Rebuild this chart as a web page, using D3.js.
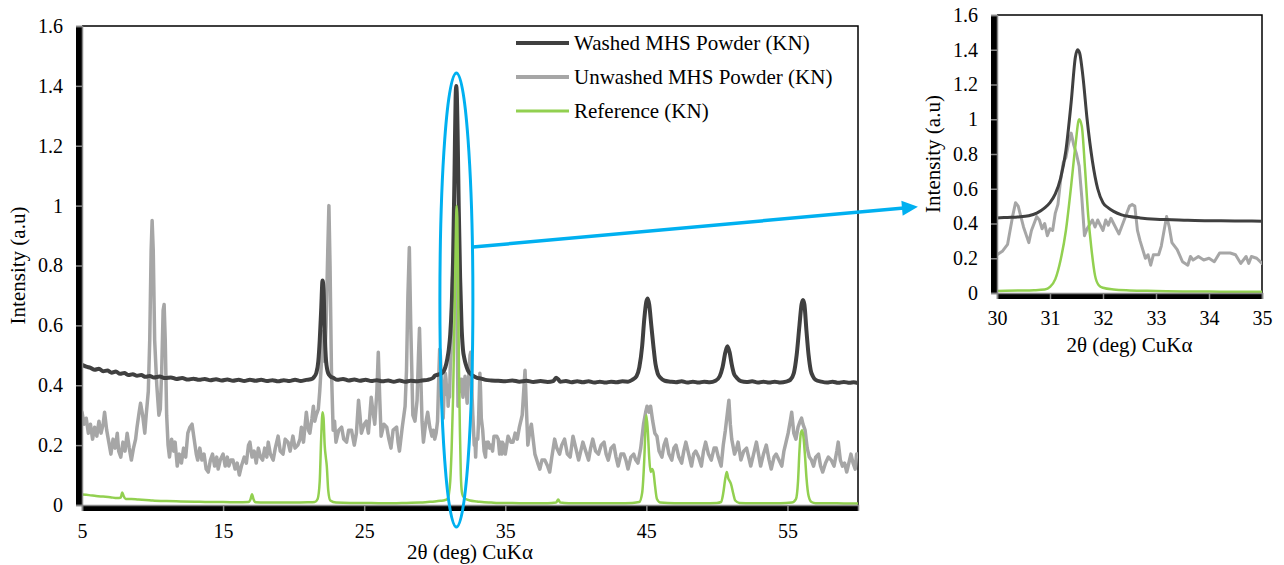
<!DOCTYPE html>
<html>
<head>
<meta charset="utf-8">
<script src="https://cdn.jsdelivr.net/npm/d3@7"></script>
<style>
  body { margin: 0; background: #fff; }
  svg text { fill: #000; }
</style>
</head>
<body>
<svg id="chart" width="1284" height="565"></svg>
<script>
// ---- XRD patterns (2θ in degrees, normalised intensity) ----
const washedTheta = [5.0,5.3,5.6,5.9,6.2,6.5,6.8,7.1,7.4,7.7,8.0,8.3,8.6,8.9,9.2,9.5,9.8,10.1,10.5,10.9,11.3,11.7,12.1,12.5,12.9,13.3,13.7,14.1,14.5,14.9,15.3,15.7,16.1,16.5,16.9,17.3,17.7,18.1,18.5,18.9,19.3,19.7,20.1,20.5,20.9,21.2,21.4,21.6,21.75,21.85,21.95,22.05,22.12,22.2,22.3,22.45,22.6,22.8,23.1,23.5,23.9,24.3,24.7,25.1,25.5,25.9,26.3,26.7,27.1,27.5,27.9,28.3,28.7,29.1,29.5,29.9,30.0,30.2,30.4,30.6,30.75,30.9,31.0,31.1,31.2,31.3,31.4,31.48,31.52,31.56,31.62,31.7,31.8,31.9,32.0,32.1,32.2,32.35,32.5,32.7,33.0,33.3,33.6,34.0,34.5,35.0,35.5,36.0,36.5,37.0,37.5,38.0,38.4,38.6,38.75,38.9,39.3,39.7,40.1,40.5,40.9,41.3,41.7,42.1,42.5,42.9,43.3,43.7,44.0,44.3,44.5,44.7,44.85,45.0,45.1,45.2,45.35,45.5,45.65,45.8,46.0,46.3,46.7,47.1,47.5,47.9,48.3,48.7,49.1,49.5,49.9,50.2,50.4,50.6,50.75,50.9,51.05,51.2,51.4,51.7,52.1,52.5,52.9,53.3,53.7,54.1,54.5,54.9,55.2,55.45,55.65,55.85,56.0,56.1,56.2,56.35,56.5,56.65,56.8,57.0,57.4,57.8,58.2,58.6,59.0,59.4,59.7,60.0];
const washedIntensity = [0.468,0.462,0.458,0.452,0.455,0.447,0.449,0.442,0.446,0.438,0.441,0.434,0.437,0.432,0.434,0.428,0.431,0.426,0.429,0.424,0.426,0.421,0.424,0.419,0.422,0.418,0.421,0.417,0.420,0.416,0.419,0.415,0.418,0.414,0.418,0.415,0.418,0.414,0.417,0.413,0.417,0.414,0.418,0.414,0.418,0.420,0.425,0.44,0.48,0.55,0.65,0.75,0.72,0.58,0.48,0.44,0.43,0.425,0.418,0.421,0.416,0.419,0.415,0.418,0.414,0.417,0.413,0.416,0.412,0.416,0.412,0.415,0.413,0.416,0.418,0.425,0.432,0.435,0.438,0.445,0.46,0.49,0.52,0.57,0.66,0.82,1.10,1.36,1.40,1.38,1.25,1.00,0.76,0.60,0.52,0.49,0.47,0.45,0.44,0.432,0.425,0.422,0.418,0.416,0.415,0.413,0.416,0.412,0.415,0.411,0.414,0.411,0.414,0.425,0.42,0.412,0.414,0.410,0.413,0.410,0.413,0.409,0.412,0.409,0.412,0.410,0.413,0.412,0.418,0.43,0.46,0.53,0.62,0.68,0.69,0.67,0.60,0.53,0.47,0.44,0.425,0.415,0.412,0.410,0.413,0.409,0.412,0.409,0.412,0.410,0.415,0.43,0.46,0.51,0.53,0.51,0.47,0.44,0.425,0.414,0.411,0.413,0.409,0.412,0.409,0.412,0.409,0.412,0.418,0.44,0.50,0.60,0.67,0.685,0.67,0.58,0.50,0.45,0.43,0.418,0.412,0.409,0.412,0.408,0.411,0.408,0.410,0.407];

const unwashedTheta = [5.0,5.15,5.3,5.45,5.6,5.75,5.9,6.05,6.2,6.35,6.5,6.6,6.75,6.9,7.05,7.2,7.35,7.5,7.6,7.75,7.9,8.05,8.2,8.35,8.5,8.65,8.8,8.9,9.05,9.15,9.3,9.45,9.55,9.7,9.8,9.9,9.97,10.05,10.15,10.3,10.45,10.55,10.65,10.75,10.82,10.9,11.0,11.1,11.2,11.35,11.5,11.6,11.75,11.9,12.05,12.2,12.35,12.5,12.65,12.8,12.95,13.1,13.2,13.35,13.5,13.65,13.8,13.95,14.1,14.25,14.4,14.55,14.65,14.8,15.0,15.15,15.3,15.4,15.55,15.7,15.85,16.0,16.15,16.3,16.5,16.65,16.8,16.9,17.05,17.2,17.35,17.5,17.65,17.8,17.95,18.1,18.2,18.35,18.55,18.7,18.9,19.05,19.25,19.4,19.6,19.75,19.95,20.1,20.3,20.45,20.55,20.7,20.9,21.05,21.15,21.3,21.4,21.5,21.6,21.75,21.85,22.0,22.1,22.2,22.3,22.42,22.5,22.58,22.68,22.8,22.9,23.0,23.2,23.4,23.55,23.75,23.9,24.1,24.3,24.45,24.6,24.7,24.8,25.0,25.15,25.3,25.5,25.6,25.75,25.9,26.0,26.1,26.2,26.4,26.6,26.75,26.9,27.05,27.3,27.4,27.5,27.7,27.9,28.0,28.1,28.2,28.3,28.45,28.6,28.75,28.85,28.92,29.0,29.1,29.2,29.35,29.5,29.65,29.8,29.9,30.0,30.1,30.2,30.3,30.35,30.4,30.5,30.6,30.65,30.75,30.8,30.85,30.9,30.95,31.0,31.05,31.1,31.15,31.2,31.25,31.3,31.35,31.4,31.45,31.5,31.55,31.6,31.65,31.7,31.8,31.85,31.9,32.0,32.05,32.1,32.15,32.2,32.3,32.35,32.45,32.5,32.55,32.6,32.65,32.7,32.8,32.85,32.9,32.95,33.05,33.1,33.2,33.25,33.3,33.4,33.5,33.6,33.65,33.7,33.8,33.9,34.0,34.1,34.2,34.3,34.4,34.5,34.6,34.7,34.75,34.8,34.9,35.0,35.2,35.4,35.55,35.7,35.85,36.0,36.2,36.4,36.5,36.6,36.75,36.85,37.0,37.1,37.3,37.45,37.6,37.8,38.0,38.15,38.3,38.5,38.65,38.85,39.0,39.2,39.4,39.6,39.8,40.0,40.2,40.35,40.5,40.7,40.9,41.05,41.2,41.4,41.6,41.8,42.0,42.15,42.3,42.5,42.7,42.85,43.0,43.2,43.4,43.55,43.7,43.9,44.1,44.25,44.4,44.6,44.8,44.95,45.05,45.2,45.3,45.45,45.6,45.75,45.9,46.1,46.25,46.4,46.6,46.8,46.95,47.1,47.3,47.5,47.65,47.8,48.0,48.2,48.35,48.5,48.7,48.9,49.05,49.2,49.4,49.6,49.8,49.95,50.1,50.3,50.45,50.6,50.75,50.85,50.95,51.05,51.25,51.4,51.5,51.7,51.9,52.1,52.25,52.4,52.6,52.8,52.95,53.1,53.3,53.5,53.7,53.85,54.05,54.2,54.4,54.6,54.75,54.9,55.05,55.2,55.3,55.45,55.6,55.75,55.9,56.0,56.1,56.25,56.4,56.55,56.7,56.85,57.0,57.2,57.35,57.5,57.7,57.9,58.1,58.3,58.5,58.6,58.75,58.9,59.05,59.2,59.35,59.5,59.65,59.8,59.9,60.0];
const unwashedIntensity = [0.31,0.27,0.29,0.24,0.27,0.22,0.26,0.23,0.28,0.24,0.27,0.31,0.25,0.21,0.17,0.22,0.19,0.24,0.18,0.16,0.21,0.18,0.24,0.19,0.15,0.19,0.22,0.26,0.31,0.34,0.30,0.24,0.30,0.38,0.55,0.85,0.95,0.85,0.55,0.40,0.30,0.32,0.45,0.65,0.67,0.55,0.30,0.20,0.16,0.22,0.18,0.21,0.13,0.17,0.14,0.19,0.16,0.24,0.26,0.27,0.22,0.17,0.15,0.19,0.15,0.17,0.12,0.11,0.15,0.17,0.13,0.16,0.12,0.15,0.17,0.13,0.16,0.13,0.15,0.15,0.12,0.14,0.10,0.13,0.16,0.14,0.20,0.21,0.16,0.18,0.14,0.19,0.16,0.15,0.19,0.16,0.21,0.17,0.15,0.19,0.23,0.18,0.17,0.22,0.21,0.18,0.23,0.19,0.20,0.22,0.26,0.21,0.31,0.25,0.24,0.29,0.33,0.28,0.30,0.32,0.38,0.50,0.58,0.48,0.60,0.85,1.00,0.80,0.45,0.25,0.28,0.21,0.25,0.26,0.22,0.21,0.25,0.25,0.20,0.24,0.35,0.30,0.24,0.27,0.28,0.24,0.36,0.32,0.27,0.38,0.51,0.36,0.23,0.27,0.26,0.22,0.19,0.25,0.26,0.21,0.18,0.26,0.33,0.45,0.70,0.86,0.60,0.30,0.28,0.35,0.50,0.59,0.45,0.28,0.21,0.27,0.31,0.26,0.23,0.25,0.22,0.24,0.28,0.45,0.52,0.50,0.38,0.29,0.36,0.44,0.42,0.37,0.40,0.33,0.37,0.36,0.46,0.51,0.65,0.75,0.78,0.86,0.92,0.85,0.80,0.73,0.55,0.33,0.37,0.42,0.38,0.42,0.36,0.42,0.39,0.43,0.40,0.34,0.38,0.46,0.50,0.51,0.50,0.36,0.30,0.20,0.22,0.16,0.22,0.22,0.27,0.44,0.38,0.29,0.25,0.18,0.16,0.21,0.19,0.21,0.19,0.20,0.18,0.23,0.23,0.23,0.22,0.17,0.21,0.17,0.21,0.20,0.17,0.23,0.21,0.21,0.24,0.22,0.26,0.30,0.45,0.32,0.20,0.25,0.27,0.21,0.17,0.14,0.12,0.15,0.15,0.13,0.11,0.16,0.22,0.19,0.17,0.20,0.22,0.17,0.16,0.23,0.19,0.15,0.18,0.21,0.18,0.15,0.19,0.22,0.18,0.17,0.20,0.21,0.17,0.15,0.19,0.20,0.16,0.13,0.17,0.17,0.15,0.12,0.16,0.17,0.15,0.14,0.19,0.27,0.31,0.33,0.31,0.33,0.28,0.24,0.23,0.18,0.16,0.20,0.22,0.17,0.15,0.19,0.20,0.16,0.14,0.18,0.21,0.17,0.13,0.17,0.18,0.16,0.13,0.18,0.21,0.17,0.15,0.19,0.19,0.16,0.13,0.20,0.25,0.31,0.35,0.27,0.22,0.17,0.19,0.21,0.15,0.18,0.19,0.16,0.13,0.17,0.21,0.17,0.13,0.17,0.20,0.15,0.12,0.16,0.17,0.15,0.13,0.18,0.21,0.24,0.28,0.31,0.24,0.22,0.26,0.28,0.29,0.27,0.25,0.19,0.16,0.15,0.13,0.16,0.17,0.13,0.11,0.14,0.16,0.15,0.13,0.18,0.21,0.15,0.13,0.14,0.11,0.14,0.17,0.14,0.12,0.17,0.17];

const referenceTheta = [5.0,5.5,6.0,6.5,7.0,7.5,7.75,7.85,7.95,8.1,8.5,9.0,9.5,10.0,11.0,12.0,13.0,14.0,15.0,16.0,16.8,16.95,17.05,17.15,17.3,18.0,19.0,20.0,21.0,21.5,21.7,21.85,21.95,22.05,22.12,22.2,22.28,22.35,22.45,22.6,23.0,24.0,25.0,26.0,27.0,28.0,29.0,29.5,30.0,30.4,30.7,30.9,31.0,31.1,31.2,31.3,31.4,31.48,31.55,31.6,31.66,31.72,31.78,31.85,31.92,32.0,32.2,32.5,33.0,33.5,34.0,34.5,35.0,36.0,37.0,38.0,38.6,38.75,38.9,39.5,40.0,41.0,42.0,43.0,44.0,44.5,44.7,44.85,44.95,45.0,45.1,45.2,45.3,45.4,45.5,45.6,45.75,46.0,47.0,48.0,49.0,50.0,50.3,50.45,50.6,50.7,50.8,50.9,51.0,51.15,51.3,51.6,52.5,53.5,54.5,55.3,55.6,55.75,55.85,55.95,56.05,56.15,56.25,56.35,56.5,56.7,57.0,58.0,59.0,60.0];
const referenceIntensity = [0.035,0.033,0.030,0.028,0.026,0.023,0.025,0.042,0.030,0.020,0.020,0.018,0.017,0.015,0.013,0.012,0.011,0.010,0.010,0.009,0.010,0.020,0.036,0.020,0.009,0.008,0.008,0.008,0.009,0.010,0.02,0.08,0.22,0.31,0.29,0.20,0.16,0.13,0.05,0.015,0.008,0.007,0.007,0.006,0.006,0.007,0.008,0.010,0.012,0.014,0.016,0.020,0.035,0.08,0.19,0.36,0.62,0.85,1.00,0.96,0.72,0.45,0.26,0.10,0.045,0.03,0.02,0.015,0.012,0.009,0.008,0.007,0.007,0.006,0.006,0.006,0.008,0.018,0.008,0.006,0.006,0.006,0.006,0.006,0.007,0.010,0.04,0.15,0.27,0.30,0.25,0.16,0.11,0.12,0.11,0.07,0.02,0.008,0.006,0.006,0.006,0.007,0.010,0.04,0.09,0.11,0.09,0.08,0.07,0.04,0.015,0.007,0.006,0.006,0.006,0.008,0.02,0.08,0.18,0.24,0.25,0.22,0.16,0.09,0.03,0.010,0.006,0.006,0.005,0.005];

const seriesNames = ["Washed MHS Powder (KN)", "Unwashed MHS Powder (KN)", "Reference (KN)"];
const seriesColors = ["#404040", "#A6A6A6", "#92D050"];

const intensityTicks = [0, 0.2, 0.4, 0.6, 0.8, 1, 1.2, 1.4, 1.6];
const mainThetaTicks = [5, 15, 25, 35, 45, 55];
const zoomThetaTicks = [30, 31, 32, 33, 34, 35];

const xTitle = "2θ (deg) CuKα";
const yTitle = "Intensity (a.u)";

// ---- drawing ----
const FONT = 'Times New Roman, Times, Liberation Serif, DejaVu Serif, serif';
const svg = d3.select("#chart");
const AXIS_GREY = "#868686";

const series = [
  { name: seriesNames[0], color: seriesColors[0], theta: washedTheta, value: washedIntensity, curve: d3.curveMonotoneX },
  { name: seriesNames[1], color: seriesColors[1], theta: unwashedTheta, value: unwashedIntensity, curve: d3.curveLinear },
  { name: seriesNames[2], color: seriesColors[2], theta: referenceTheta, value: referenceIntensity, curve: d3.curveMonotoneX }
];
// draw order: grey underneath, then dark, then green on top
const drawOrder = [1, 0, 2];

function addText(sel, size) {
  return sel.attr("font-family", FONT).attr("font-size", size).attr("fill", "#000");
}

function drawPanel(opt) {
  const x = d3.scaleLinear().domain(opt.xDomain).range([opt.left, opt.right]);
  const y = d3.scaleLinear().domain([0, 1.6]).range([opt.bottom, opt.top]);
  const g = svg.append("g");

  const clipId = "clip-" + opt.id;
  g.append("clipPath").attr("id", clipId)
    .append("rect")
    .attr("x", opt.left).attr("y", opt.top - 5)
    .attr("width", opt.right - opt.left).attr("height", opt.bottom - opt.top + 5);

  // frame: black top & right edges
  g.append("path")
    .attr("d", `M${opt.left},${opt.top}H${opt.right}V${opt.bottom}`)
    .attr("fill", "none").attr("stroke", "#000").attr("stroke-width", 1.5);

  const lines = g.append("g").attr("clip-path", `url(#${clipId})`);
  drawOrder.forEach(i => {
    const s = series[i];
    const pts = s.theta.map((t, k) => [t, s.value[k]])
      .filter(p => p[0] >= opt.xDomain[0] - 0.3 && p[0] <= opt.xDomain[1] + 0.3);
    const line = d3.line().x(p => x(p[0])).y(p => y(p[1])).curve(s.curve);
    lines.append("path")
      .datum(pts)
      .attr("d", line)
      .attr("fill", "none")
      .attr("stroke", s.color)
      .attr("stroke-width", opt.widths[i])
      .attr("stroke-linejoin", "round")
      .attr("stroke-linecap", "round");
  });

  // axes
  const yAxis = d3.axisLeft(y).tickValues(intensityTicks)
    .tickFormat(d => String(+d.toFixed(1))).tickSizeOuter(0).tickSize(6).tickPadding(13);
  const gy = g.append("g").attr("transform", `translate(${opt.left},0)`).call(yAxis);
  const xAxis = d3.axisBottom(x).tickValues(opt.xTicks).tickFormat(d => String(d))
    .tickSizeOuter(0).tickSize(6).tickPadding(opt.xPad);
  const gx = g.append("g").attr("transform", `translate(0,${opt.bottom})`).call(xAxis);
  [gx, gy].forEach(a => {
    addText(a, 20);
    a.select(".domain").attr("stroke", AXIS_GREY).attr("stroke-width", 1.5);
    a.selectAll(".tick line").attr("stroke", AXIS_GREY).attr("stroke-width", 1.5);
    addText(a.selectAll(".tick text"), 20);
  });

  // titles
  addText(g.append("text"), 21)
    .attr("x", (opt.left + opt.right) / 2).attr("y", opt.xTitleY)
    .attr("text-anchor", "middle")
    .text(xTitle);
  addText(g.append("text"), 21)
    .attr("transform", `translate(${opt.yTitleX},${(opt.top + opt.bottom) / 2}) rotate(-90)`)
    .attr("text-anchor", "middle")
    .text(yTitle);

  return { x, y };
}

const main = drawPanel({
  id: "main", xDomain: [5, 60], xTicks: mainThetaTicks,
  left: 82, right: 858, top: 26, bottom: 505,
  xPad: 13, xTitleY: 559, yTitleX: 25,
  widths: [4, 3.5, 2.5]
});

const inset = drawPanel({
  id: "inset", xDomain: [30, 35], xTicks: zoomThetaTicks,
  left: 997, right: 1262, top: 15, bottom: 293,
  xPad: 12, xTitleY: 352, yTitleX: 940,
  widths: [3, 3, 2.5]
});

// legend
const legend = svg.append("g");
series.forEach((s, i) => {
  const ly = 43 + i * 34;
  legend.append("line")
    .attr("x1", 516).attr("x2", 569).attr("y1", ly).attr("y2", ly)
    .attr("stroke", s.color).attr("stroke-width", i === 2 ? 3 : 4);
  addText(legend.append("text"), 21)
    .attr("x", 574).attr("y", ly + 7)
    .text(s.name);
});

// highlight of the 31.5° peak and the pointer to the enlarged view
const BLUE = "#00B0F0";
const hl = svg.append("g");
const peakTheta = 31.5;
const cx = main.x(peakTheta) + 0.5;
hl.append("ellipse")
  .attr("cx", cx).attr("cy", 300)
  .attr("rx", 16.5).attr("ry", 227)
  .attr("fill", "none").attr("stroke", BLUE).attr("stroke-width", 3);
const x0 = cx + 16.5, y0 = 247, x1 = 904, y1 = 208;
hl.append("line")
  .attr("x1", x0).attr("y1", y0).attr("x2", x1).attr("y2", y1)
  .attr("stroke", BLUE).attr("stroke-width", 3.5);
const ang = Math.atan2(y1 - y0, x1 - x0);
const tipLen = 16, half = 7.5;
const tip = [x1 + Math.cos(ang) * (tipLen - 2), y1 + Math.sin(ang) * (tipLen - 2)];
const base = [x1 - Math.cos(ang) * 2, y1 - Math.sin(ang) * 2];
hl.append("path")
  .attr("d", `M${tip[0]},${tip[1]}L${base[0] - Math.sin(ang) * half},${base[1] + Math.cos(ang) * half}L${base[0] + Math.sin(ang) * half},${base[1] - Math.cos(ang) * half}Z`)
  .attr("fill", BLUE);
</script>
</body>
</html>
